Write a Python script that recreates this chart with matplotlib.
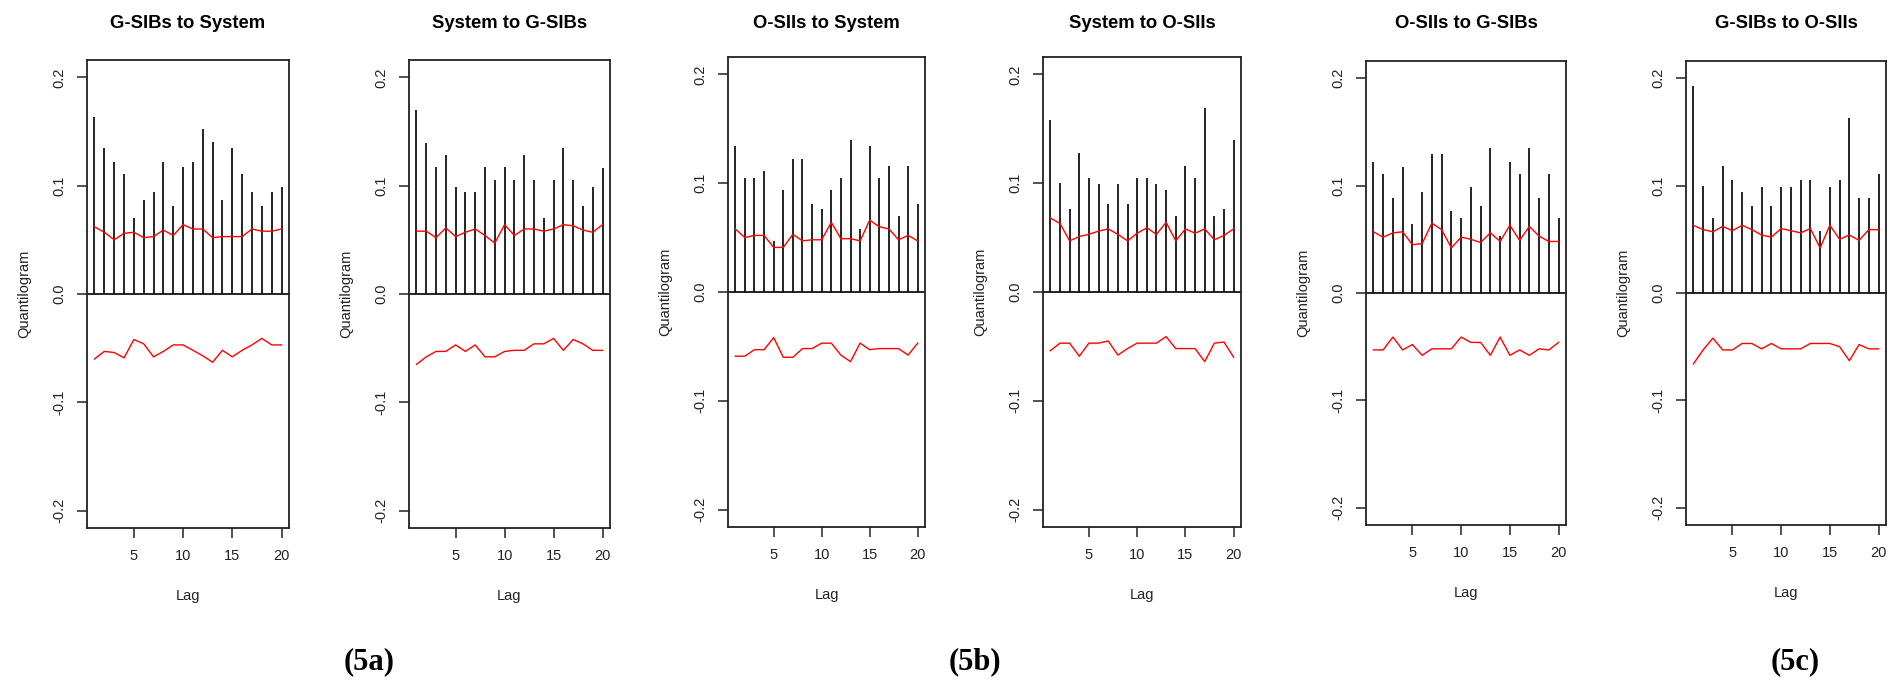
import numpy as np
import matplotlib.pyplot as plt

plt.rcParams['font.family'] = ['Liberation Sans', 'DejaVu Sans']

lags = np.arange(1, 21)

titles = ["G-SIBs to System", "System to G-SIBs", "O-SIIs to System",
          "System to O-SIIs", "O-SIIs to G-SIBs", "G-SIBs to O-SIIs"]
group_labels = ["(5a)", "(5b)", "(5c)"]

# cross-quantilogram estimates by lag
q_gsib_sys = [0.163, 0.135, 0.122, 0.111, 0.070, 0.087, 0.094, 0.122, 0.081, 0.117,
              0.122, 0.152, 0.140, 0.087, 0.135, 0.111, 0.094, 0.081, 0.094, 0.099]
q_sys_gsib = [0.170, 0.139, 0.117, 0.128, 0.099, 0.094, 0.094, 0.117, 0.105, 0.117,
              0.105, 0.128, 0.105, 0.070, 0.105, 0.135, 0.105, 0.081, 0.099, 0.116]
q_osii_sys = [0.134, 0.105, 0.105, 0.111, 0.047, 0.094, 0.122, 0.122, 0.081, 0.076,
              0.094, 0.105, 0.140, 0.058, 0.134, 0.105, 0.116, 0.070, 0.116, 0.081]
q_sys_osii = [0.158, 0.100, 0.076, 0.128, 0.105, 0.099, 0.081, 0.099, 0.081, 0.105,
              0.105, 0.099, 0.094, 0.070, 0.116, 0.105, 0.169, 0.070, 0.076, 0.140]
q_osii_gsib = [0.122, 0.111, 0.088, 0.117, 0.064, 0.094, 0.129, 0.129, 0.076, 0.070,
               0.099, 0.081, 0.135, 0.053, 0.122, 0.111, 0.135, 0.088, 0.111, 0.070]
q_gsib_osii = [0.193, 0.100, 0.070, 0.118, 0.105, 0.094, 0.081, 0.099, 0.081, 0.099,
               0.099, 0.105, 0.105, 0.058, 0.099, 0.105, 0.163, 0.088, 0.088, 0.111]

# upper 95% bootstrap confidence bands
up_gsib_sys = [0.062, 0.057, 0.050, 0.056, 0.057, 0.052, 0.053, 0.059, 0.054, 0.064,
               0.060, 0.060, 0.052, 0.053, 0.053, 0.053, 0.060, 0.058, 0.058, 0.060]
up_sys_gsib = [0.058, 0.058, 0.052, 0.061, 0.053, 0.057, 0.060, 0.054, 0.047, 0.064,
               0.054, 0.060, 0.060, 0.058, 0.060, 0.064, 0.063, 0.059, 0.057, 0.064]
up_osii_sys = [0.058, 0.050, 0.052, 0.052, 0.041, 0.041, 0.053, 0.047, 0.048, 0.048,
               0.064, 0.049, 0.049, 0.047, 0.066, 0.060, 0.058, 0.048, 0.052, 0.047]
up_sys_osii = [0.068, 0.063, 0.047, 0.051, 0.053, 0.056, 0.058, 0.053, 0.047, 0.054,
               0.059, 0.053, 0.064, 0.047, 0.058, 0.054, 0.058, 0.048, 0.052, 0.058]
up_osii_gsib = [0.057, 0.052, 0.056, 0.057, 0.045, 0.046, 0.065, 0.059, 0.042, 0.052,
                0.050, 0.047, 0.056, 0.048, 0.063, 0.049, 0.062, 0.053, 0.048, 0.048]
up_gsib_osii = [0.063, 0.059, 0.057, 0.062, 0.058, 0.063, 0.059, 0.054, 0.052, 0.060,
                0.058, 0.056, 0.060, 0.042, 0.063, 0.050, 0.054, 0.049, 0.059, 0.059]

# lower 95% bootstrap confidence bands
lo_gsib_sys = [-0.060, -0.053, -0.054, -0.059, -0.042, -0.046, -0.058, -0.053, -0.047, -0.047,
               -0.052, -0.057, -0.063, -0.052, -0.058, -0.052, -0.047, -0.041, -0.047, -0.047]
lo_sys_gsib = [-0.065, -0.058, -0.053, -0.053, -0.047, -0.053, -0.047, -0.058, -0.058, -0.053,
               -0.052, -0.052, -0.046, -0.046, -0.041, -0.052, -0.042, -0.046, -0.052, -0.052]
lo_osii_sys = [-0.059, -0.059, -0.053, -0.053, -0.042, -0.060, -0.060, -0.052, -0.052, -0.047,
               -0.047, -0.058, -0.064, -0.047, -0.053, -0.052, -0.052, -0.052, -0.058, -0.047]
lo_sys_osii = [-0.054, -0.047, -0.047, -0.059, -0.047, -0.047, -0.045, -0.058, -0.052, -0.047,
               -0.047, -0.047, -0.041, -0.052, -0.052, -0.052, -0.064, -0.047, -0.046, -0.060]
lo_osii_gsib = [-0.053, -0.053, -0.041, -0.053, -0.048, -0.058, -0.052, -0.052, -0.052, -0.041,
                -0.046, -0.046, -0.058, -0.041, -0.058, -0.053, -0.058, -0.052, -0.053, -0.046]
lo_gsib_osii = [-0.066, -0.053, -0.042, -0.053, -0.053, -0.047, -0.047, -0.052, -0.047, -0.052,
                -0.052, -0.052, -0.047, -0.047, -0.047, -0.050, -0.063, -0.048, -0.052, -0.052]

series = [
    (q_gsib_sys, up_gsib_sys, lo_gsib_sys),
    (q_sys_gsib, up_sys_gsib, lo_sys_gsib),
    (q_osii_sys, up_osii_sys, lo_osii_sys),
    (q_sys_osii, up_sys_osii, lo_sys_osii),
    (q_osii_gsib, up_osii_gsib, lo_osii_gsib),
    (q_gsib_osii, up_gsib_osii, lo_gsib_osii),
]

W, H = 1893, 681
fig = plt.figure(figsize=(W / 100, H / 100), dpi=100)

# plot boxes in pixels: left, right, top, bottom
boxes = [(87, 289, 60, 528), (409, 610, 60, 528), (728, 925, 57, 527),
         (1043, 1241, 57, 527), (1366, 1566, 61, 525), (1686, 1886, 61, 525)]

for (l, r, t, b), title, (q, up, lo) in zip(boxes, titles, series):
    ax = fig.add_axes([l / W, 1 - b / H, (r - l) / W, (b - t) / H])
    ax.vlines(lags, 0, q, color='black', lw=1.2)
    ax.axhline(0, color='black', lw=1.2)
    ax.plot(lags, up, color='#ff0000', lw=1.0)
    ax.plot(lags, lo, color='#ff0000', lw=1.0)
    ax.set_xlim(0.24, 20.76)
    ax.set_ylim(-0.216, 0.216)
    ax.set_xticks([5, 10, 15, 20])
    ax.set_yticks([-0.2, -0.1, 0.0, 0.1, 0.2])
    ax.set_yticklabels(["-0.2", "-0.1", "0.0", "0.1", "0.2"])
    ax.tick_params(direction='out', length=7, width=1.1, labelsize=10.5, pad=8,
                   colors='#222222')
    ax.tick_params(axis='y', labelrotation=90)
    for lab in ax.get_yticklabels():
        lab.set_va('center')
    for sp in ax.spines.values():
        sp.set_linewidth(1.3)
        sp.set_color('#222222')
    ax.set_xlabel("Lag", fontsize=10.5, labelpad=19, color='#222222')
    ax.set_ylabel("Quantilogram", fontsize=10.5, labelpad=15, color='#222222')
    fig.text((l + r) / 2 / W, 1 - 23 / H, title, ha='center', va='center',
             fontsize=13.3, fontweight='bold')

for x, lab in zip([369, 975, 1795], group_labels):
    fig.text(x / W, 1 - 662 / H, lab, ha='center', va='center',
             fontsize=22, fontweight='bold', family='Liberation Serif')

fig.savefig("out.png", dpi=100)
